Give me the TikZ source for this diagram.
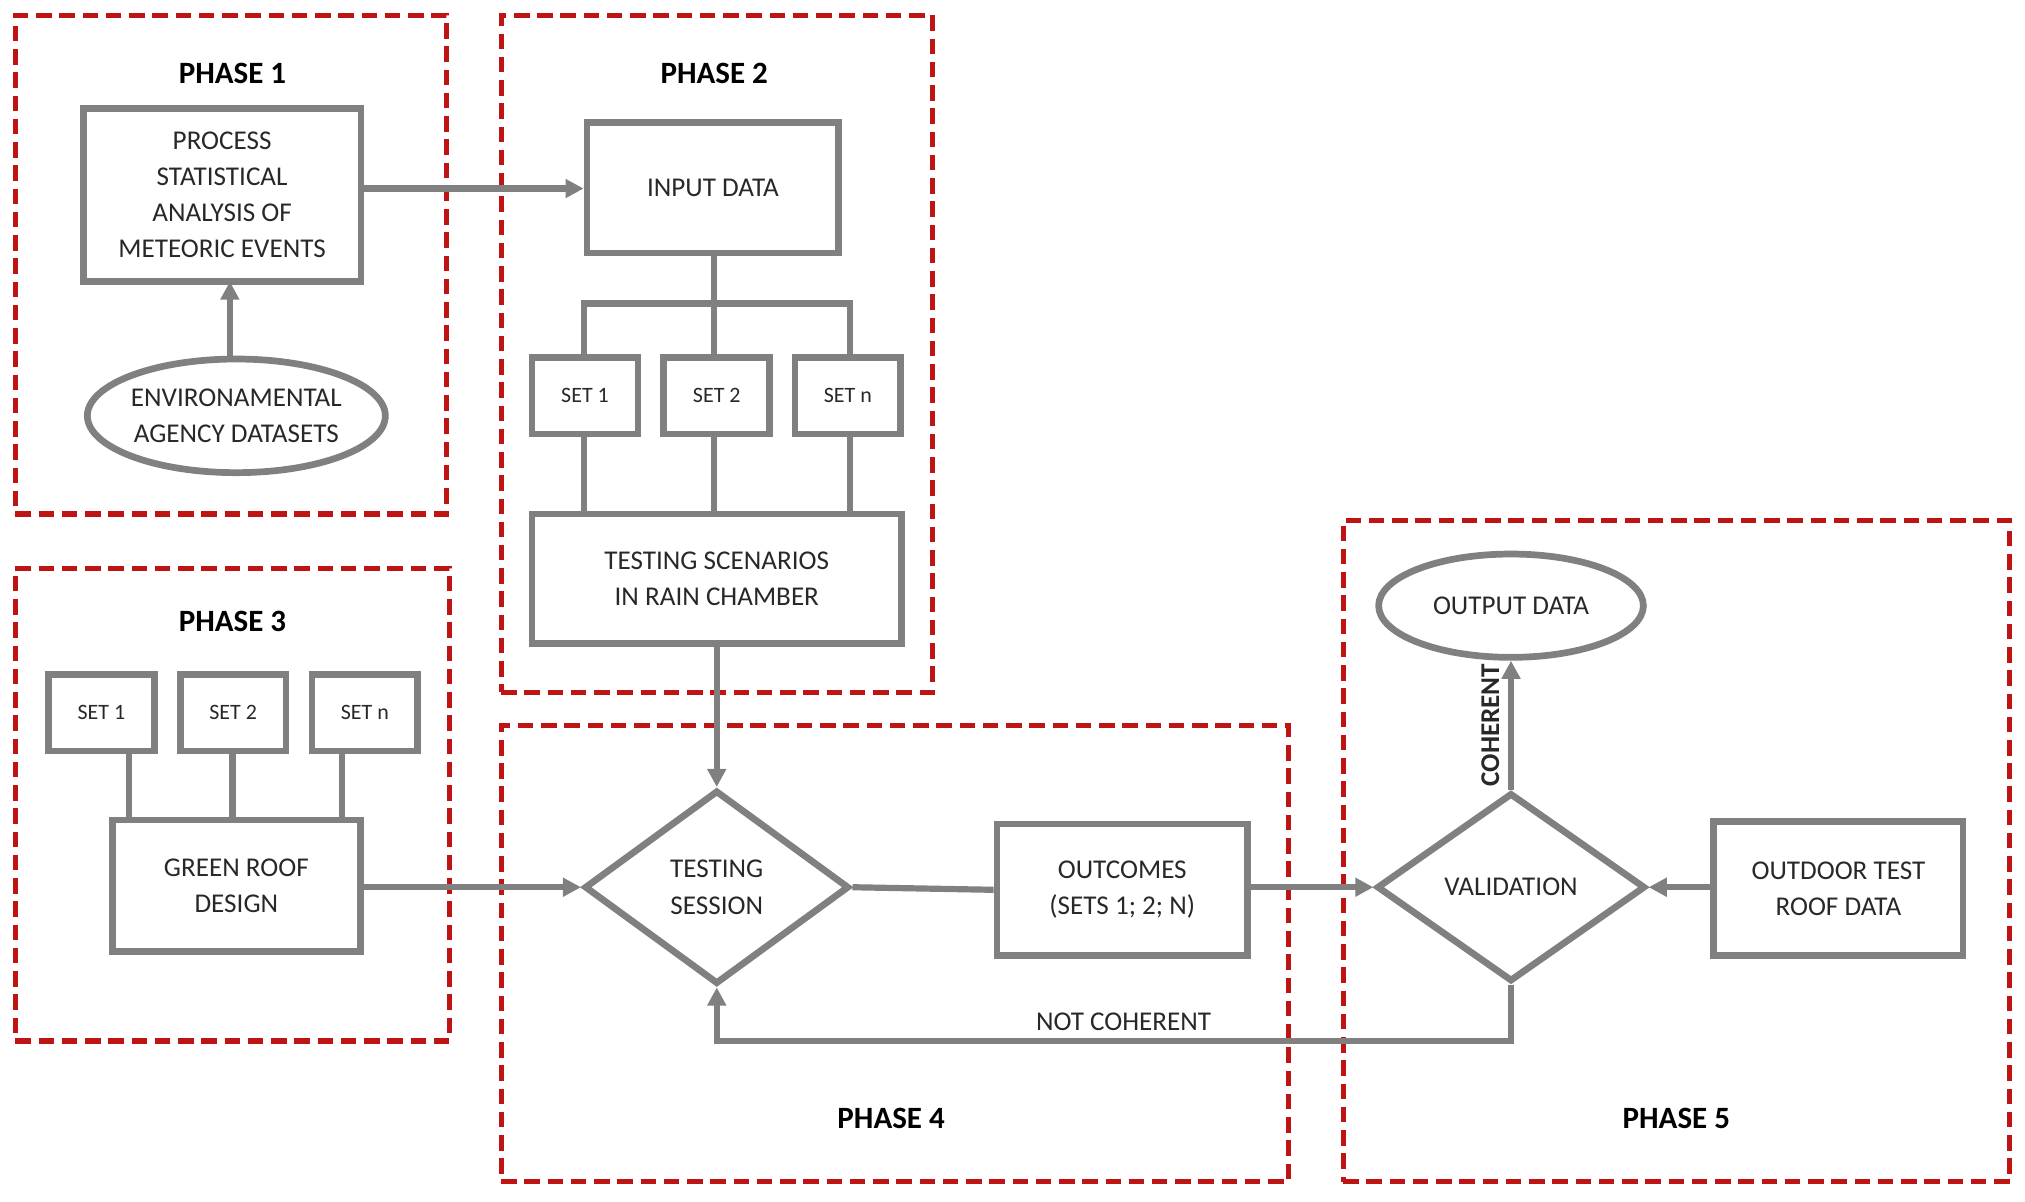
\documentclass[tikz,border=0pt]{standalone}
\usepackage{fontspec}
\setmainfont{Carlito}
\usetikzlibrary{shapes.geometric,arrows.meta}
\definecolor{g}{RGB}{128,128,128}
\definecolor{dr}{RGB}{190,20,20}
\definecolor{tx}{RGB}{40,40,40}
\begin{document}
\begin{tikzpicture}[x=0.5pt,y=-0.5pt,
 box/.style={draw=g,line width=2.6pt,rectangle,inner sep=0pt,align=center,text=tx,font=\fontsize{10.5}{14}\selectfont},
 ell/.style={draw=g,line width=2.6pt,ellipse,inner sep=0pt,align=center,text=tx,font=\fontsize{10.5}{14}\selectfont},
 dia/.style={draw=g,line width=2.6pt,diamond,inner sep=0pt,align=center,text=tx,font=\fontsize{10.5}{14}\selectfont},
 sset/.style={box,font=\fontsize{8.5}{10}\selectfont,minimum width=41pt,minimum height=29.5pt},
 phase/.style={draw=dr,line width=2pt,dash pattern=on 6pt off 3pt},
 plab/.style={font=\bfseries\fontsize{12}{14}\selectfont,text=black},
 ln/.style={draw=g,line width=2.4pt},
 ar/.style={ln,-{Triangle[length=7pt,width=7pt]}}]
\useasboundingbox (0,0) rectangle (1568,930);
% phases
\node[phase,draw,minimum width=167pt,minimum height=193pt] (p1) at (179,205) {};
\node[phase,draw,minimum width=167pt,minimum height=262pt] (p2) at (555,274) {};
\node[phase,draw,minimum width=168pt,minimum height=183pt] (p3) at (180,623) {};
\node[phase,draw,minimum width=305pt,minimum height=176.5pt] (p4) at (693,738.5) {};
\node[phase,draw,minimum width=258pt,minimum height=256pt] (p5) at (1298,659) {};
\node[plab] (l1) at (180,57) {PHASE 1};
\node[plab] (l2) at (553,57) {PHASE 2};
\node[plab] (l3) at (180,481) {PHASE 3};
\node[plab] (l4) at (690,866) {PHASE 4};
\node[plab] (l5) at (1298,866) {PHASE 5};
% phase 1
\node[box,minimum width=107.5pt,minimum height=67pt] (proc) at (172,151) {PROCESS\\STATISTICAL\\ANALYSIS OF\\METEORIC EVENTS};
\node[ell,minimum width=113pt,minimum height=44pt] (env) at (183,322) {ENVIRONAMENTAL\\AGENCY DATASETS};
\draw[ar] (env.north -| 178,0) -- (178,218);
% phase 2
\node[box,minimum width=97.5pt,minimum height=50.5pt] (inp) at (552,145.5) {INPUT DATA};
\draw[ar] (proc.east |- 0,146) -- (inp.west |- 0,146);
\node[sset] (s1) at (453,306.5) {SET 1};
\node[sset] (s2) at (555,306.5) {SET 2};
\node[sset] (sn) at (656.5,306.5) {SET n};
\node[box,minimum width=143pt,minimum height=50pt] (ts) at (555,448) {TESTING SCENARIOS\\IN RAIN CHAMBER};
\coordinate (j) at (553,235);
\draw[ln] (inp.south -| 553,0) -- (j);
\draw[ln] (s1.north -| 452,0) |- (j) -| (sn.north -| 658,0);
\draw[ln] (j) -- (s2.north -| 553,0);
\draw[ln] (s1.south -| 452,0) -- (ts.north -| 452,0);
\draw[ln] (s2.south -| 553,0) -- (ts.north -| 553,0);
\draw[ln] (sn.south -| 658,0) -- (ts.north -| 658,0);
% phase 3
\node[sset] (t1) at (78.5,552) {SET 1};
\node[sset] (t2) at (180.5,552) {SET 2};
\node[sset] (tn) at (282.5,552) {SET n};
\node[box,minimum width=96pt,minimum height=51pt] (gr) at (183,686) {GREEN ROOF\\DESIGN};
\draw[ln] (t1.south -| 100,0) -- (gr.north -| 100,0);
\draw[ln] (t2.south -| 180,0) -- (gr.north -| 180,0);
\draw[ln] (tn.south -| 265,0) -- (gr.north -| 265,0);
% phase 4
\node[dia,minimum width=102.5pt,minimum height=75pt] (tsd) at (555,687) {TESTING\\SESSION};
\draw[ar] (ts.south) -- (tsd.north);
\draw[ar] (gr.east |- 0,687) -- (tsd.west);
\node[box,minimum width=97pt,minimum height=51pt] (out) at (869,689) {OUTCOMES\\(SETS 1; 2; N)};
\draw[ln] (tsd.east) -- (out.west);
% phase 5
\node[dia,minimum width=104pt,minimum height=73pt] (val) at (1170,687) {VALIDATION};
\node[ell,minimum width=102.5pt,minimum height=40pt] (od) at (1170,469) {OUTPUT DATA};
\node[box,minimum width=96.5pt,minimum height=52pt] (odt) at (1423.5,688) {OUTDOOR TEST\\ROOF DATA};
\draw[ar] (out.east |- 0,687) -- (val.west);
\draw[ar] (odt.west |- 0,687) -- (val.east);
\draw[ar] (val.north) -- node[left=0pt,rotate=90,anchor=south,font=\bfseries\fontsize{10.5}{12}\selectfont,text=tx] (coh) {COHERENT} (od.south);
\coordinate (c1) at (1170,806);
\coordinate (c2) at (555,806);
\draw[ar] (val.south) -- (c1) -- (c2) -- (tsd.south);
\node[font=\fontsize{10.5}{12}\selectfont,text=tx] (nc) at (870,791) {NOT COHERENT};
\end{tikzpicture}
\end{document}
